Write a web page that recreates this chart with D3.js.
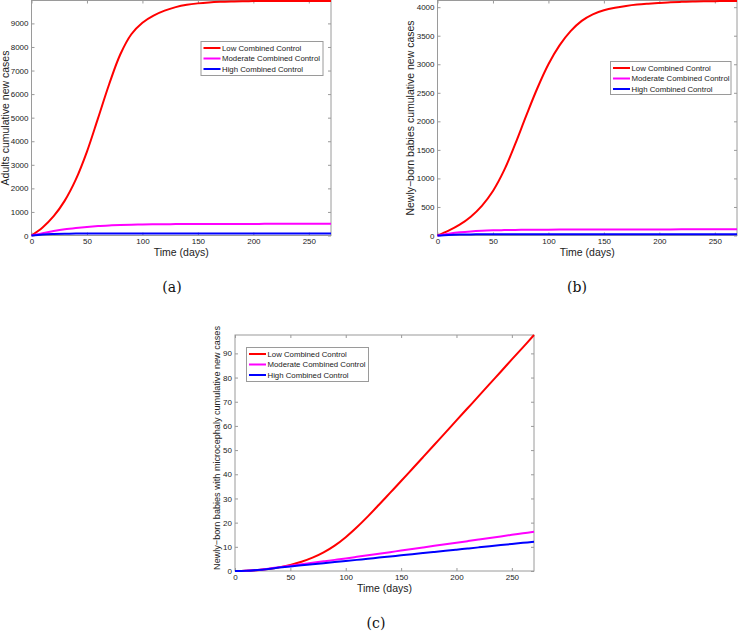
<!DOCTYPE html>
<html><head><meta charset="utf-8">
<script src="https://cdn.jsdelivr.net/npm/d3@7"></script>
<style>
html,body{margin:0;padding:0;background:#fff;}
svg{display:block;}
</style></head>
<body>
<svg id="chart" width="738" height="631"></svg>
<script>
// ---------- DATA ----------
const days = [0,10,20,30,40,50,60,70,80,90,100,110,120,130,140,150,160,170,180,190,200,210,220,230,240,250,260,270];
const seriesNames = ["Low Combined Control","Moderate Combined Control","High Combined Control"];
const seriesColors = ["#ff0000","#ff00ff","#0000ff"];

// (a) Adults cumulative new cases
const adultsLow  = [0,340,820,1480,2380,3560,4980,6420,7680,8540,9030,9330,9540,9690,9790,9850,9890,9915,9930,9940,9946,9949,9951,9952,9953,9954,9955,9955];
const adultsMod  = [0,100,190,265,320,365,400,425,445,458,467,474,479,483,486,488,489.5,490.5,491.5,492.3,493,493.5,494,494.3,494.6,494.8,495,495];
const adultsHigh = [0,45,65,75,80,82.5,84,85,85.7,86.2,86.6,86.9,87.1,87.3,87.4,87.5,87.6,87.7,87.8,87.8,87.9,87.9,88,88,88,88,88,88];

// (b) Newly-born babies cumulative new cases
const babiesLow  = [0,85,190,330,520,780,1140,1600,2100,2580,3000,3330,3580,3760,3875,3945,3990,4022,4046,4062,4075,4085,4093,4099,4103,4106,4108,4110];
const babiesMod  = [0,30,55,72,83,90,94.5,97.5,99.6,101.2,102.4,103.3,104,104.6,105.1,105.5,105.9,106.2,106.5,106.8,107,107.2,107.4,107.5,107.6,107.7,107.8,108];
const babiesHigh = [0,10,16,19,20.3,21,21.4,21.6,21.8,21.9,22,22,22,22,22,22,22,22,22,22,22,22,22,22,22,22,22,22];

// (c) Newly-born babies with microcephaly cumulative new cases
const microLow  = [0,0.1,0.35,0.8,1.5,2.5,3.8,5.5,7.7,10.5,14.0,18.1,22.6,27.4,32.3,37.2,42.2,47.2,52.2,57.2,62.3,67.3,72.3,77.4,82.4,87.5,92.5,97.6];
const microMod  = [0,0.1,0.45,0.95,1.6,2.2,2.8,3.4,4.0,4.6,5.2,5.85,6.5,7.15,7.8,8.45,9.1,9.75,10.4,11.05,11.7,12.35,13.0,13.65,14.3,14.95,15.6,16.25];
const microHigh = [0,0.1,0.4,0.85,1.4,1.9,2.35,2.8,3.25,3.7,4.15,4.6,5.07,5.54,6.01,6.48,6.95,7.42,7.89,8.36,8.83,9.3,9.77,10.24,10.71,11.18,11.65,12.1];

// tick labels
const xTicks = [0,50,100,150,200,250];
const yTicksA = [0,1000,2000,3000,4000,5000,6000,7000,8000,9000];
const yTicksB = [0,500,1000,1500,2000,2500,3000,3500,4000];
const yTicksC = [0,10,20,30,40,50,60,70,80,90];
const xLabel = "Time (days)";
const yLabels = ["Adults cumulative new cases","Newly\u2212born babies cumulative new cases","Newly\u2212born babies with microcephaly cumulative new cases"];
const captions = ["(a)","(b)","(c)"];

// ---------- LAYOUT ----------
const svg = d3.select("#chart");
const sans = "'Liberation Sans', Arial, Helvetica, sans-serif";
const axisColor = "#9a9a9a";
const textColor = "#222";

const panels = [
  {series:[adultsLow,adultsMod,adultsHigh], yTicks:yTicksA, yMax:9972, left:31.5, right:331, top:0.5, bottom:235.5,
   yLabel:yLabels[0], yLabelX:9, yLabelSize:10.5, legend:{x:201,y:41.5,w:122,h:34}, caption:captions[0], capX:172, capY:292},
  {series:[babiesLow,babiesMod,babiesHigh], yTicks:yTicksB, yMax:4117, left:437.5, right:737, top:0.5, bottom:235.5,
   yLabel:yLabels[1], yLabelX:414, yLabelSize:10.5, legend:{x:610.5,y:61.5,w:120.5,h:33}, caption:captions[1], capX:577, capY:292},
  {series:[microLow,microMod,microHigh], yTicks:yTicksC, yMax:97.6, left:235, right:534, top:335, bottom:571,
   yLabel:yLabels[2], yLabelX:220, yLabelSize:9.1, legend:{x:246.5,y:347.5,w:122,h:34}, caption:captions[2], capX:376, capY:628}
];

panels.forEach(p => {
  const x = d3.scaleLinear().domain([0,270]).range([p.left,p.right]);
  const y = d3.scaleLinear().domain([0,p.yMax]).range([p.bottom,p.top]);
  const g = svg.append("g");

  // box
  g.append("rect").attr("x",p.left).attr("y",p.top).attr("width",p.right-p.left).attr("height",p.bottom-p.top)
    .attr("fill","none").attr("stroke",axisColor).attr("stroke-width",1);

  // axes (ticks inward)
  const bx = g.append("g").attr("transform",`translate(0,${p.bottom})`)
    .call(d3.axisBottom(x).tickValues(xTicks).tickSize(-3).tickPadding(2.5).tickFormat(d3.format("d")));
  const tx = g.append("g").attr("transform",`translate(0,${p.top})`)
    .call(d3.axisTop(x).tickValues(xTicks).tickSize(-3).tickFormat(""));
  const ly = g.append("g").attr("transform",`translate(${p.left},0)`)
    .call(d3.axisLeft(y).tickValues(p.yTicks).tickSize(-3).tickPadding(3).tickFormat(d3.format("d")));
  const ry = g.append("g").attr("transform",`translate(${p.right},0)`)
    .call(d3.axisRight(y).tickValues(p.yTicks).tickSize(-3).tickFormat(""));
  [bx,tx,ly,ry].forEach(a => {
    a.select(".domain").remove();
    a.selectAll(".tick line").attr("stroke",axisColor);
    a.selectAll(".tick text").attr("fill",textColor).style("font-family",sans).style("font-size","8px");
  });
  bx.selectAll(".tick text").attr("dy","0.8em");

  // lines
  p.series.forEach((vals,i) => {
    const line = d3.line().x((d,j)=>x(days[j])).y(d=>y(d)).curve(d3.curveCatmullRom.alpha(0.5));
    g.append("path").datum(vals).attr("d",line).attr("fill","none")
      .attr("stroke",seriesColors[i]).attr("stroke-width",2).attr("stroke-linejoin","round");
  });

  // x label
  g.append("text").attr("x",(p.left+p.right)/2).attr("y",p.bottom+20.5).attr("text-anchor","middle")
    .attr("fill",textColor).style("font-family",sans).style("font-size","10.5px").text(xLabel);
  // y label
  const cy = (p.top+p.bottom)/2 - (p.yLabelSize<10 ? 5 : 0);
  g.append("text").attr("transform",`translate(${p.yLabelX},${cy}) rotate(-90)`).attr("text-anchor","middle")
    .attr("fill",textColor).style("font-family",sans).style("font-size",p.yLabelSize+"px").text(p.yLabel);

  // legend
  const L = p.legend;
  const lg = g.append("g");
  lg.append("rect").attr("x",L.x).attr("y",L.y).attr("width",L.w).attr("height",L.h)
    .attr("fill","#fff").attr("stroke",axisColor).attr("stroke-width",1);
  seriesNames.forEach((name,i) => {
    const ry0 = L.y + 6.5 + i*10.5;
    lg.append("line").attr("x1",L.x+2.5).attr("x2",L.x+19.5).attr("y1",ry0).attr("y2",ry0)
      .attr("stroke",seriesColors[i]).attr("stroke-width",2);
    lg.append("text").attr("x",L.x+21).attr("y",ry0+2.8).attr("fill",textColor)
      .style("font-family",sans).style("font-size","7.8px").text(name);
  });

  // caption
  svg.append("text").attr("x",p.capX).attr("y",p.capY).attr("text-anchor","middle")
    .attr("fill","#111").style("font-family","'DejaVu Serif', 'Liberation Serif', serif").style("font-size","14px").text(p.caption);
});
</script>
</body></html>
